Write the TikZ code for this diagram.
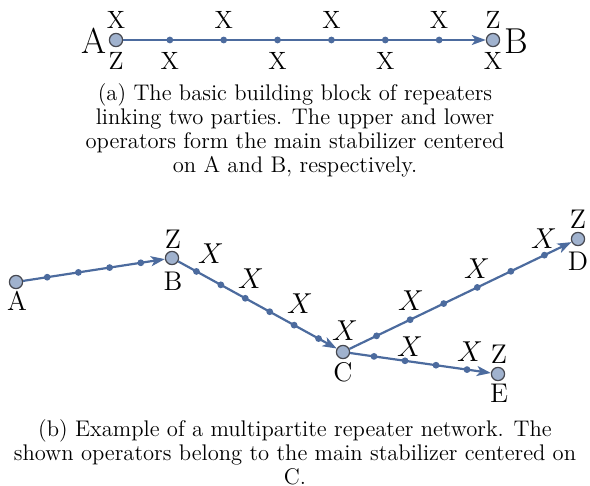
\documentclass[tikz,border=0pt]{standalone}
\usetikzlibrary{calc,arrows.meta}
\definecolor{linecol}{RGB}{76,107,158}
\definecolor{partyfill}{RGB}{160,178,206}
\definecolor{partyedge}{RGB}{70,72,80}
\begin{document}
\begin{tikzpicture}[x=0.5pt,y=-0.5pt,
  party/.style={circle,draw=partyedge,fill=partyfill,line width=0.6pt,minimum size=6.6pt,inner sep=0pt},
  dotnode/.style={circle,fill=linecol,minimum size=3.4pt,inner sep=0pt},
  conn/.style={draw=linecol,line width=1.1pt},
  arr/.style={conn,-{Stealth[length=7pt,width=5pt,inset=1.8pt]}},
  toplab/.style={inner sep=0pt,font=\fontsize{12.5}{14}\selectfont},
  bigname/.style={inner sep=0pt,font=\fontsize{18}{21}\selectfont},
  botlab/.style={inner sep=0pt,font=\fontsize{13.5}{16}\selectfont},
  caption/.style={align=center,inner sep=0pt,font=\fontsize{11.3}{12}\selectfont}
]
\useasboundingbox (0,0) rectangle (590,486);

% ---------- (a) ----------
\node[party] (tA) at (116,40) {};
\node[party] (tB) at (493,40) {};
\foreach \i in {1,...,6}{
  \node[dotnode] (t\i) at ($(tA)!\i/7!(tB)$) {};
}
\draw[arr] (tA) -- (tB);
\node[bigname] (nA) at (94,41) {A};
\node[bigname] (nB) at (516,41) {B};
\node[toplab] (aux) at (116,20) {X};
\node[toplab] (alz) at (116,61) {Z};
\node[toplab] (bux) at (493,20) {Z};
\node[toplab] (blx) at (493,61) {X};
\node[toplab] (l1) at ($(t1)+(0,21)$) {X};
\node[toplab] (u2) at ($(t2)+(0,-20)$) {X};
\node[toplab] (l3) at ($(t3)+(0,21)$) {X};
\node[toplab] (u4) at ($(t4)+(0,-20)$) {X};
\node[toplab] (l5) at ($(t5)+(0,21)$) {X};
\node[toplab] (u6) at ($(t6)+(0,-20)$) {X};

\node[caption] (capa) at (295,130) {(a) The basic building block of repeaters\\
linking two parties. The upper and lower\\
operators form the main stabilizer centered\\
on A and B, respectively.};

% ---------- (b) ----------
\node[party] (A) at (16,282) {};
\node[party] (B) at (172,258) {};
\node[party] (C) at (343,352) {};
\node[party] (D) at (578,239) {};
\node[party] (E) at (498,374) {};
\foreach \i in {1,...,4}{
  \node[dotnode] (ab\i) at ($(A)!\i/5!(B)$) {};
  \node[dotnode] (ce\i) at ($(C)!\i/5!(E)$) {};
}
\foreach \i in {1,...,6}{
  \node[dotnode] (bc\i) at ($(B)!\i/7!(C)$) {};
  \node[dotnode] (cd\i) at ($(C)!\i/7!(D)$) {};
}
\draw[arr] (A) -- (B);
\draw[arr] (B) -- (C);
\draw[arr] (C) -- (D);
\draw[arr] (C) -- (E);

\node[botlab] (lA) at (17,301) {A};
\node[botlab] (zB) at (173,239) {Z};
\node[botlab] (lB) at (173,281) {B};
\node[botlab] (x1) at (211,254) {$X$};
\node[botlab] (x2) at (251,279) {$X$};
\node[botlab] (x3) at (300,304) {$X$};
\node[botlab] (xC) at (345,331) {$X$};
\node[botlab] (lC) at (343,372) {C};
\node[botlab] (x4) at (411,301) {$X$};
\node[botlab] (x5) at (477,269) {$X$};
\node[botlab] (x6) at (544,239) {$X$};
\node[botlab] (zD) at (578,219) {Z};
\node[botlab] (lD) at (578,261) {D};
\node[botlab] (x7) at (410,347) {$X$};
\node[botlab] (x8) at (470,352) {$X$};
\node[botlab] (zE) at (499,354) {Z};
\node[botlab] (lE) at (499,393) {E};

\node[caption] (capb) at (295,452) {(b) Example of a multipartite repeater network. The\\
shown operators belong to the main stabilizer centered on\\
C.};
\end{tikzpicture}
\end{document}
